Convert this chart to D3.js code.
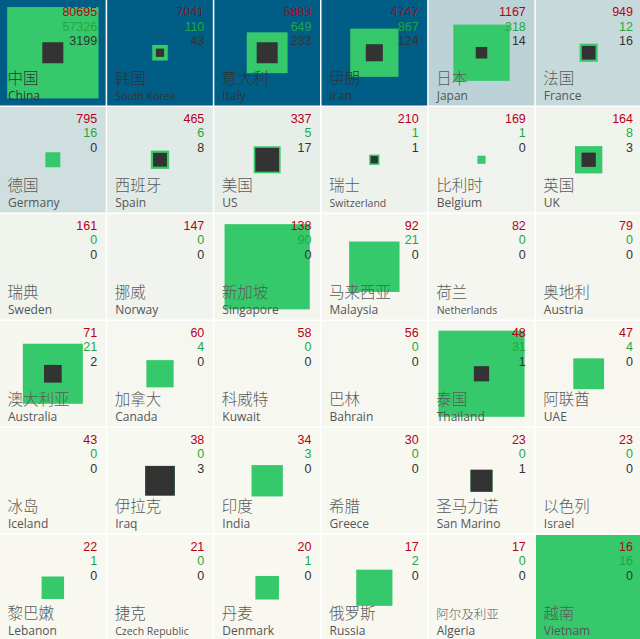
<!DOCTYPE html>
<html>
<head>
<meta charset="utf-8">
<script src="https://cdn.jsdelivr.net/npm/d3@7"></script>
<style>
  html, body { margin: 0; padding: 0; background: #fff; }
  svg { display: block; }
</style>
</head>
<body>
<svg id="chart" width="640" height="639"></svg>
<script>
const namesZh = ['中国','韩国','意大利','伊朗','日本','法国','德国','西班牙','美国','瑞士','比利时','英国',
  '瑞典','挪威','新加坡','马来西亚','荷兰','奥地利','澳大利亚','加拿大','科威特','巴林','泰国','阿联酋',
  '冰岛','伊拉克','印度','希腊','圣马力诺','以色列','黎巴嫩','捷克','丹麦','俄罗斯','阿尔及利亚','越南'];
const namesEn = ['China','South Korea','Italy','Iran','Japan','France','Germany','Spain','US','Switzerland','Belgium','UK',
  'Sweden','Norway','Singapore','Malaysia','Netherlands','Austria','Australia','Canada','Kuwait','Bahrain','Thailand','UAE',
  'Iceland','Iraq','India','Greece','San Marino','Israel','Lebanon','Czech Republic','Denmark','Russia','Algeria','Vietnam'];
const confirmed = [80695,7041,5883,4747,1167,949,795,465,337,210,169,164,
  161,147,138,92,82,79,71,60,58,56,48,47,
  43,38,34,30,23,23,22,21,20,17,17,16];
const recovered = [57326,110,649,867,318,12,16,6,5,1,1,8,
  0,0,90,21,0,0,21,4,0,0,31,4,
  0,0,3,0,0,0,1,0,1,2,0,16];
const deaths = [3199,43,233,124,14,16,0,8,17,1,0,3,
  0,0,0,0,0,0,2,0,0,0,1,0,
  0,3,0,0,1,0,0,0,0,0,0,0];

const width = 640, height = 639, cols = 6, rows = 6;

const data = namesZh.map((zh, i) => ({
  zh, en: namesEn[i], c: confirmed[i], r: recovered[i], d: deaths[i],
  col: i % cols, row: Math.floor(i / cols)
}));

const x = d3.scaleBand().domain(d3.range(cols)).range([0, width + 1.5]).paddingInner(0.014);
const y = d3.scaleBand().domain(d3.range(rows)).range([0, height + 1.5]).paddingInner(0.014);
const side = d3.scaleSqrt().domain([0, 1]).range([0, Math.min(x.bandwidth(), y.bandwidth())]);
const color = d3.scaleLinear().domain([0, 4700]).range(['#f9f9f1', '#005e86']).clamp(true);

const svg = d3.select('#chart');
svg.append('rect').attr('width', width).attr('height', height).attr('fill', '#fff');

const cell = svg.selectAll('g.cell')
  .data(data)
  .join('g')
  .attr('class', 'cell')
  .attr('transform', d => `translate(${x(d.col)},${y(d.row)})`);

const bw = x.bandwidth(), bh = y.bandwidth();

cell.append('rect')
  .attr('width', bw)
  .attr('height', bh)
  .attr('fill', d => color(d.c));

// closed cases (recovered + deaths) share
cell.append('rect')
  .attr('x', d => (bw - side((d.r + d.d) / d.c)) / 2)
  .attr('y', d => (bh - side((d.r + d.d) / d.c)) / 2)
  .attr('width', d => side((d.r + d.d) / d.c))
  .attr('height', d => side((d.r + d.d) / d.c))
  .attr('fill', '#36c96b');

// deaths share
cell.append('rect')
  .attr('x', d => (bw - side(d.d / d.c)) / 2)
  .attr('y', d => (bh - side(d.d / d.c)) / 2)
  .attr('width', d => side(d.d / d.c))
  .attr('height', d => side(d.d / d.c))
  .attr('fill', '#333');

const numFont = '"Liberation Sans", Arial, sans-serif';
const nums = [
  { key: 'c', fill: '#b8001a', dy: 16 },
  { key: 'r', fill: '#1fa83f', dy: 30.5 },
  { key: 'd', fill: '#333', dy: 45 }
];
nums.forEach(n => {
  cell.append('text')
    .attr('x', bw - 8.5)
    .attr('y', n.dy)
    .attr('text-anchor', 'end')
    .attr('font-family', numFont)
    .attr('font-size', 12.5)
    .attr('fill', n.fill)
    .text(d => d[n.key]);
});

cell.append('text')
  .attr('x', 7.5)
  .attr('y', 84)
  .attr('font-family', '"Noto Sans CJK SC", sans-serif')
  .attr('font-size', d => d.zh.length > 4 ? 12.5 : 15.5)
  .attr('font-weight', 300)
  .attr('fill', d => d.c > 3000 ? '#333' : '#5a5a5a')
  .text(d => d.zh);

cell.append('text')
  .attr('x', 8)
  .attr('y', 100)
  .attr('font-family', '"Open Sans", "Noto Sans", sans-serif')
  .attr('font-size', d => d.en.length > 10 ? 10.5 : 12)
  .attr('fill', d => d.c > 3000 ? '#333' : '#555')
  .text(d => d.en);
</script>
</body>
</html>
